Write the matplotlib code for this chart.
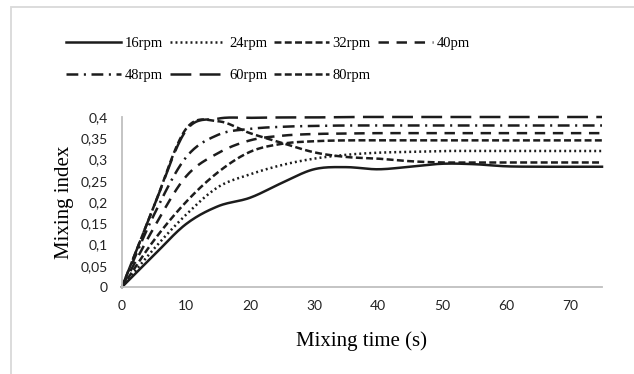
import numpy as np
import matplotlib
matplotlib.use('Agg')
import matplotlib.pyplot as plt
from matplotlib.patches import Rectangle

# data
time_s = [0, 5, 10, 15, 20, 25, 30, 35, 40, 45, 50, 55, 60, 65, 70, 75]
mi_16 = [0, 0.075, 0.148, 0.19, 0.21, 0.245, 0.277, 0.282, 0.277, 0.283, 0.29, 0.289, 0.284, 0.283, 0.283, 0.283]
mi_24 = [0, 0.09, 0.17, 0.235, 0.265, 0.287, 0.302, 0.311, 0.316, 0.318, 0.32, 0.32, 0.32, 0.32, 0.32, 0.32]
mi_32 = [0, 0.11, 0.2, 0.27, 0.318, 0.337, 0.343, 0.345, 0.345, 0.345, 0.345, 0.345, 0.345, 0.345, 0.345, 0.345]
mi_40 = [0, 0.14, 0.26, 0.315, 0.345, 0.356, 0.36, 0.361, 0.362, 0.362, 0.362, 0.362, 0.362, 0.362, 0.362, 0.362]
mi_48 = [0, 0.17, 0.305, 0.358, 0.372, 0.377, 0.379, 0.38, 0.38, 0.38, 0.38, 0.38, 0.38, 0.38, 0.38, 0.38]
mi_60 = [0, 0.19, 0.368, 0.396, 0.398, 0.399, 0.399, 0.4, 0.4, 0.4, 0.4, 0.4, 0.4, 0.4, 0.4, 0.4]
mi_80 = [0, 0.19, 0.372, 0.39, 0.362, 0.339, 0.317, 0.306, 0.302, 0.296, 0.293, 0.293, 0.293, 0.293, 0.293, 0.293]

labels = ['16rpm', '24rpm', '32rpm', '40pm', '48rpm', '60rpm', '80rpm']
series = [mi_16, mi_24, mi_32, mi_40, mi_48, mi_60, mi_80]
dash_styles = [
    '-',
    (0, (1.4, 2.2)),
    (0, (5, 2.4)),
    (0, (7.5, 5.5)),
    (0, (8.5, 4, 1.5, 4)),
    (0, (15, 6)),
    (0, (5, 2.4)),
]
yticks = [0, 0.05, 0.1, 0.15, 0.2, 0.25, 0.3, 0.35, 0.4]
ytick_labels = ['0', '0,05', '0,1', '0,15', '0,2', '0,25', '0,3', '0,35', '0,4']
xticks = [0, 10, 20, 30, 40, 50, 60, 70]


def smooth(x, y, n=20):
    # catmull-rom, like excel's smoothed line
    x = np.asarray(x, float)
    y = np.asarray(y, float)
    px = np.concatenate([[2 * x[0] - x[1]], x, [2 * x[-1] - x[-2]]])
    py = np.concatenate([[2 * y[0] - y[1]], y, [2 * y[-1] - y[-2]]])
    xs, ys = [], []
    t = np.linspace(0, 1, n, endpoint=False)
    for i in range(1, len(px) - 2):
        for p, out in ((px, xs), (py, ys)):
            p0, p1, p2, p3 = p[i - 1], p[i], p[i + 1], p[i + 2]
            out.extend(0.5 * (2 * p1 + (-p0 + p2) * t + (2 * p0 - 5 * p1 + 4 * p2 - p3) * t ** 2
                              + (-p0 + 3 * p1 - 3 * p2 + p3) * t ** 3))
    xs.append(x[-1])
    ys.append(y[-1])
    return np.array(xs), np.array(ys)


plt.rcParams['lines.scale_dashes'] = False

fig = plt.figure(figsize=(6.34, 3.74), dpi=100)
ax = fig.add_axes([122 / 634, 1 - 287 / 374, 480 / 634, 170 / 374])

lines = []
for lab, vals, ls in zip(labels, series, dash_styles):
    sx, sy = smooth(time_s, vals)
    ln, = ax.plot(sx, sy, color='#1c1c1c', linestyle=ls, linewidth=1.8, label=lab,
                  clip_on=False, dash_capstyle='butt')
    lines.append(ln)

ax.set_xlim(0, 75)
ax.set_ylim(0, 0.4)
ax.set_yticks(yticks)
ax.set_yticklabels(ytick_labels)
ax.set_xticks(xticks)
for s in ['top', 'right']:
    ax.spines[s].set_visible(False)
for s in ['left', 'bottom']:
    ax.spines[s].set_color('#bfbfbf')
    ax.spines[s].set_linewidth(1.3)
ax.tick_params(length=0, labelsize=10, colors='#222222')
ax.tick_params(axis='x', pad=9)
ax.tick_params(axis='y', pad=10)
for t in ax.get_xticklabels() + ax.get_yticklabels():
    t.set_fontfamily('Lato')

ax.set_xlabel('Mixing time (s)', fontfamily='Liberation Serif', fontsize=15, labelpad=14)
ax.set_ylabel('Mixing index', fontfamily='Liberation Serif', fontsize=15, labelpad=5)

# legend is filled column by column, so reorder to get rows 16-24-32-40 / 48-60-80
order = [0, 4, 1, 5, 2, 6, 3]
fig.legend([lines[i] for i in order], [labels[i] for i in order],
           loc='upper left', bbox_to_anchor=(66 / 634, 1 - 37 / 374), ncol=4, frameon=False,
           prop={'family': 'Liberation Serif', 'size': 10.5}, handlelength=3.8,
           handletextpad=0.25, columnspacing=0.45, labelspacing=1.3, borderpad=0,
           borderaxespad=0)

# light grey chart-area border (cut off at right and bottom)
fig.patches.append(Rectangle((11 / 634, -0.1), 1.2, 1 - 7 / 374 + 0.1, transform=fig.transFigure,
                             fill=False, edgecolor='#d9d9d9', linewidth=1.3))

fig.savefig('out.png', dpi=100)
